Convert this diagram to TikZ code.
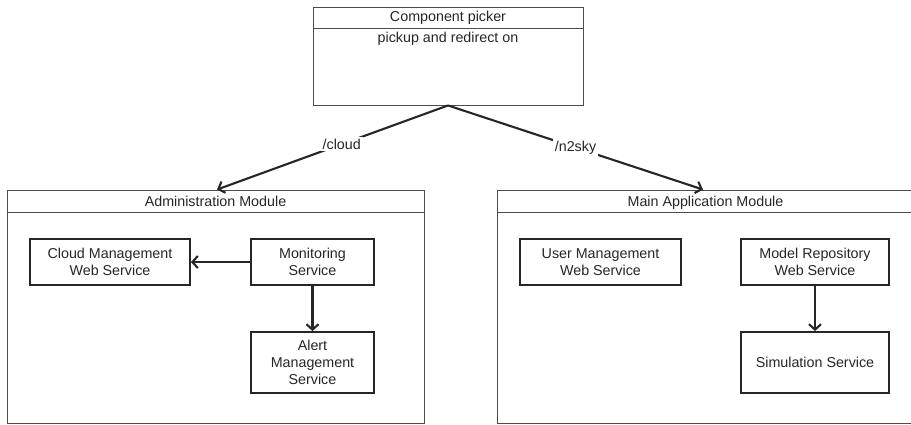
\documentclass[tikz,border=0pt]{standalone}
\usepackage{fontspec}
\setmainfont{Liberation Sans}
\usetikzlibrary{arrows.meta}

\begin{document}
\begin{tikzpicture}[x=1pt,y=-1pt,
    every node/.style={font=\fontsize{14.3}{17}\selectfont, text=black!85},
    modul/.style={draw=black!70, line width=0.9pt, shape=rectangle, inner sep=0pt},
    title/.style={anchor=base},
    svc/.style={draw=black!85, line width=1.8pt, shape=rectangle, align=center, inner sep=2pt},
    link/.style={draw=black!85, line width=2.1pt, -{Straight Barb[length=5.5pt,width=12pt]}},
    lbl/.style={fill=white, inner sep=2pt}]

\clip (0,0) rectangle (911,424);

\path (448,56) node[modul, minimum width=270pt, minimum height=98pt] (picker) {};
\path (215.5,306.5) node[modul, minimum width=417pt, minimum height=233pt] (admin) {};
\path (705.5,306.5) node[modul, minimum width=417pt, minimum height=233pt] (mainapp) {};

% headers
\draw[black!70, line width=0.9pt] ([yshift=-22pt]picker.north west) -- ([yshift=-22pt]picker.north east);
\draw[black!70, line width=0.9pt] ([yshift=-23pt]admin.north west) -- ([yshift=-23pt]admin.north east);
\draw[black!70, line width=0.9pt] ([yshift=-23pt]mainapp.north west) -- ([yshift=-23pt]mainapp.north east);
\path (picker.north) +(0,15) node[title] (pickertitle) {Component picker};
\path (picker.north) +(0,36) node[title] (pickerbody) {pickup and redirect on};
\path (admin.north) +(0,16.5) node[title] (admintitle) {Administration Module};
\path (mainapp.north) +(0,16.5) node[title] (maintitle) {Main Application Module};

\begin{scope}[every node/.style={svc, font=\fontsize{14.3}{17}\selectfont, text=black!85}]
    \path (110,262) node[minimum width=160pt, minimum height=46pt] (cloudws) {Cloud Management\\Web Service};
    \path (312.5,262) node[minimum width=123pt, minimum height=46pt] (monitor) {Monitoring\\Service};
    \path (monitor) +(0,100.5) node[minimum width=123pt, minimum height=61pt] (alert) {Alert\\Management\\Service};
    \path (600.5,262) node[minimum width=161pt, minimum height=46pt] (userws) {User Management\\Web Service};
    \path (815,262) node[minimum width=148pt, minimum height=46pt] (modelws) {Model Repository\\Web Service};
    \path (modelws) +(0,100.5) node[minimum width=148pt, minimum height=61pt] (simul) {Simulation Service};
\end{scope}

\draw[link] (picker.south) -- node[lbl, pos=0.46] {/cloud} ([xshift=1.5pt]admin.north);
\draw[link] (picker.south) -- node[lbl, pos=0.5] {/n2sky} ([xshift=-2.5pt]mainapp.north);

\draw[link] (monitor) -- (cloudws);
\draw[link] (monitor) -- (alert);
\draw[link] (modelws) -- (simul);

\end{tikzpicture}
\end{document}
